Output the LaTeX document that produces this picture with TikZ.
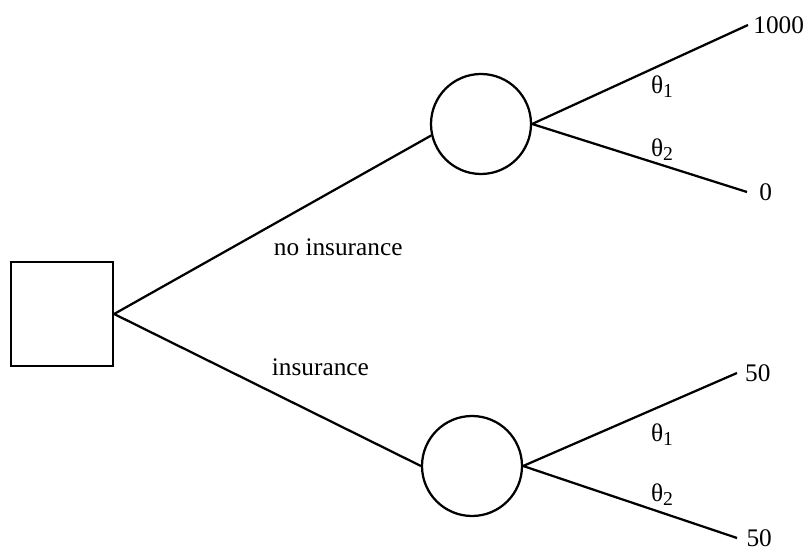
\documentclass[tikz,border=0pt]{standalone}
\usepackage{fontspec}
\setmainfont{Liberation Serif}
\usepackage{tikz}

\newcommand{\stsub}[1]{\raisebox{-0.35ex}{\fontsize{14}{16}\selectfont #1}}

\begin{document}
\begin{tikzpicture}[line width=1.6pt,font=\fontsize{18}{21}\selectfont,
  decision/.style={draw,rectangle,minimum width=2.55cm,minimum height=2.6cm,inner sep=0pt},
  chance/.style={draw,circle,minimum size=2.5cm,inner sep=0pt},
  payoff/.style={anchor=west,inner sep=3pt},
  state/.style={inner sep=0pt}]
\useasboundingbox (0,0) rectangle (20.2,13.775);
% nodes of the tree
\node[decision] (choose) at (1.55,5.925) {};
\node[chance] (risk) at (12.025,10.675) {};
\node[chance] (cover) at (11.8,2.125) {};
\node[payoff] (riskhi) at (18.7,13.15) {1000};
\node[payoff,inner sep=8pt] (risklo) at (18.675,8.975) {0};
\node[payoff,inner sep=5pt] (coverhi) at (18.425,4.45) {50};
\node[payoff,inner sep=6pt] (coverlo) at (18.425,0.325) {50};
% labels
\node[anchor=west,inner sep=0pt] (noins) at (6.82,7.6) {no insurance};
\node[anchor=west,inner sep=0pt] (ins) at (6.77,4.6) {insurance};
\node[state] (riskt1) at (16.55,11.6) {θ\stsub{1}};
\node[state] (riskt2) at (16.55,10.025) {θ\stsub{2}};
\node[state] (covert1) at (16.55,2.9) {θ\stsub{1}};
\node[state] (covert2) at (16.55,1.4) {θ\stsub{2}};
% branches
\draw (choose.east) -- (risk.193);
\draw (choose.east) -- (cover.west);
\draw (risk.east) -- (riskhi.west);
\draw (risk.east) -- (risklo.west);
\draw (cover.east) -- (coverhi.west);
\draw (cover.east) -- (coverlo.west);
\end{tikzpicture}
\end{document}
